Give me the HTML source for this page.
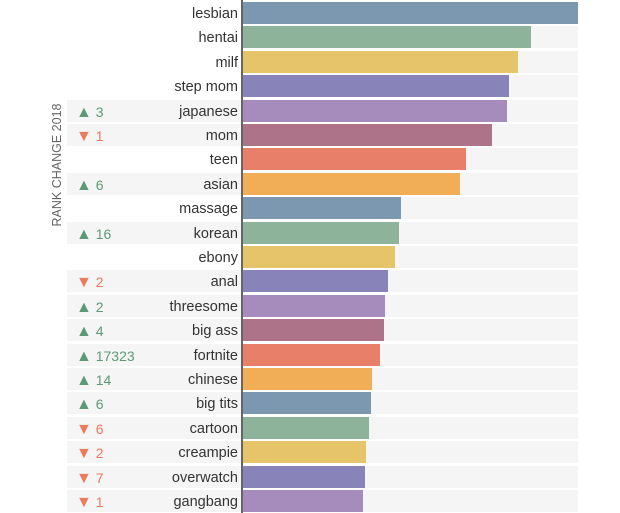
<!DOCTYPE html><html><head><style>
body{margin:0;background:#fff;font-family:"Liberation Sans",sans-serif;}
.w{position:relative;width:620px;height:513px;overflow:hidden}
.r{position:absolute;left:0;width:620px;height:22px}
.lg{position:absolute;left:67px;width:174px;height:22px;background:#f5f5f5}
.tr{position:absolute;left:243px;width:335px;height:22px;background:#f5f5f5}
.b{position:absolute;left:243px;height:22px}
.l{position:absolute;right:382px;top:4px;font-size:14.5px;line-height:16px;color:#333;white-space:nowrap}
.c{position:absolute;left:76px;top:4px;font-size:14px;line-height:16px;white-space:nowrap}
.u{color:#5c9a77}.d{color:#ec7a5d}
.ax{position:absolute;left:241px;top:0;width:2px;height:513px;background:#666}
.yt{position:absolute;left:57px;top:165px;transform:translate(-50%,-50%) rotate(-90deg);font-size:12.5px;color:#666;white-space:nowrap}
</style></head><body><div class="w" id="w">
<div class="yt">RANK CHANGE 2018</div>
</div>
<script>
var d=[["lesbian",578,""],["hentai",531,""],["milf",518,""],["step mom",509,""],["japanese",507,"u3"],["mom",492,"d1"],["teen",466,""],["asian",460,"u6"],["massage",401,""],["korean",399,"u16"],["ebony",395,""],["anal",388,"d2"],["threesome",385,"u2"],["big ass",384,"u4"],["fortnite",380,"u17323"],["chinese",372,"u14"],["big tits",371,"u6"],["cartoon",369,"d6"],["creampie",366,"d2"],["overwatch",365,"d7"],["gangbang",363,"d1"]];
var col=["#7b98b0","#8db39b","#e6c56a","#8884ba","#a68cbd","#ad7389","#e87f68","#f2ae57"];
var h="";
d.forEach(function(x,i){var t=(2+i*24.4).toFixed(1);
h+='<div class="r" style="top:'+t+'px">';
if(x[2])h+='<div class="lg"></div>';
h+='<div class="tr"></div><div class="b" style="width:'+(x[1]-243)+'px;background:'+col[i%8]+'"></div><div class="l">'+x[0]+'</div>';
if(x[2]){var u=x[2][0]=="u";h+='<div class="c '+(u?"u":"d")+'"><span style="font-size:16px">'+(u?"▲":"▼")+'</span> '+x[2].slice(1)+'</div>';}
h+='</div>';});
h+='<div class="ax"></div>';
document.getElementById("w").insertAdjacentHTML("beforeend",h);
</script></body></html>
